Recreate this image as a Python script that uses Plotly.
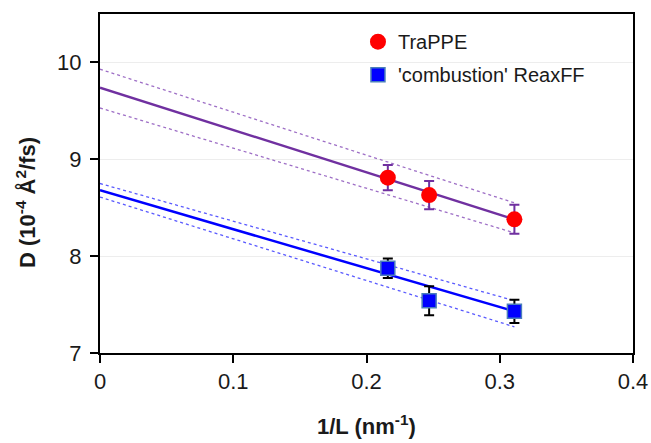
import plotly.graph_objects as go

# Data
inv_L = [0.216, 0.247, 0.311]
trappe_D = [8.81, 8.63, 8.38]
trappe_err = [0.13, 0.145, 0.15]
reax_D = [7.875, 7.54, 7.43]
reax_err = [0.10, 0.15, 0.12]

fit_x = [0.0, 0.311]
trappe_fit = [9.74, 8.38]
trappe_hi = [9.93, 8.55]
trappe_lo = [9.53, 8.24]
reax_fit = [8.68, 7.43]
reax_hi = [8.75, 7.54]
reax_lo = [8.61, 7.27]

x_title = "<b>1/L (nm<sup>-1</sup>)</b>"
y_title = "<b>D (10<sup>-4</sup> Å<sup>2</sup>/fs)</b>"

purple = "#7030A0"
purple_light = "#9E6FC6"
blue = "#0000FF"
blue_light = "#5A5AFF"

FONT = "Arial, Liberation Sans"
TXT = "#1a1a1a"

fig = go.Figure()

# fit lines
for yv, col, dash, w in [
    (trappe_hi, purple_light, "dot", 1.3),
    (trappe_lo, purple_light, "dot", 1.3),
    (trappe_fit, purple, "solid", 2.5),
    (reax_hi, blue_light, "dot", 1.3),
    (reax_lo, blue_light, "dot", 1.3),
    (reax_fit, blue, "solid", 2.5),
]:
    fig.add_trace(go.Scatter(x=fit_x, y=yv, mode="lines",
                             line=dict(color=col, width=w, dash=dash),
                             showlegend=False, hoverinfo="skip"))

fig.add_trace(go.Scatter(
    x=inv_L, y=trappe_D, mode="markers", name="TraPPE", legendgroup="a",
    marker=dict(symbol="circle", size=16, color="#FF0000", line=dict(width=0)),
    error_y=dict(type="data", array=trappe_err, color=purple, thickness=2, width=5),
))
fig.add_trace(go.Scatter(
    x=inv_L, y=reax_D, mode="markers", name="'combustion' ReaxFF", legendgroup="b",
    marker=dict(symbol="square", size=14, color="#0000FF",
                line=dict(width=1.5, color="#4A7EBB")),
    error_y=dict(type="data", array=reax_err, color="#000000", thickness=2, width=5),
))

axis_common = dict(
    showline=True, linecolor="black", linewidth=2, mirror=True,
    ticks="outside", ticklen=8, tickwidth=2, tickcolor="black",
    tickfont=dict(family=FONT, size=22, color=TXT),
    zeroline=False, automargin=False,
)

fig.update_xaxes(range=[0, 0.4], tickvals=[0, 0.1, 0.2, 0.3, 0.4],
                 ticktext=["0", "0.1", "0.2", "0.3", "0.4"],
                 showgrid=False, **axis_common)
fig.update_yaxes(range=[7, 10.5], tickvals=[7, 8, 9, 10],
                 showgrid=True, gridcolor="#EDEDED", gridwidth=1,
                 ticklabelstandoff=4, **axis_common)

fig.add_annotation(text=x_title, xref="paper", yref="paper",
                   x=0.5, y=(443 - 90 - 425) / (443 - 14 - 90),
                   xanchor="center", yanchor="middle", showarrow=False,
                   font=dict(family=FONT, size=22, color=TXT))
fig.add_annotation(text=y_title, xref="paper", yref="paper",
                   x=(26 - 100) / 533, y=(353 - 203) / 339,
                   xanchor="center", yanchor="middle", showarrow=False,
                   textangle=-90,
                   font=dict(family=FONT, size=22, color=TXT))

fig.update_layout(
    width=651, height=443,
    margin=dict(l=100, r=18, t=14, b=90),
    paper_bgcolor="white", plot_bgcolor="white",
    legend=dict(x=0.484, y=0.976, xanchor="left", yanchor="top",
                font=dict(family=FONT, size=20, color=TXT),
                bgcolor="rgba(0,0,0,0)", itemwidth=30, tracegroupgap=4),
    showlegend=True,
)

fig.write_html("out.html")
